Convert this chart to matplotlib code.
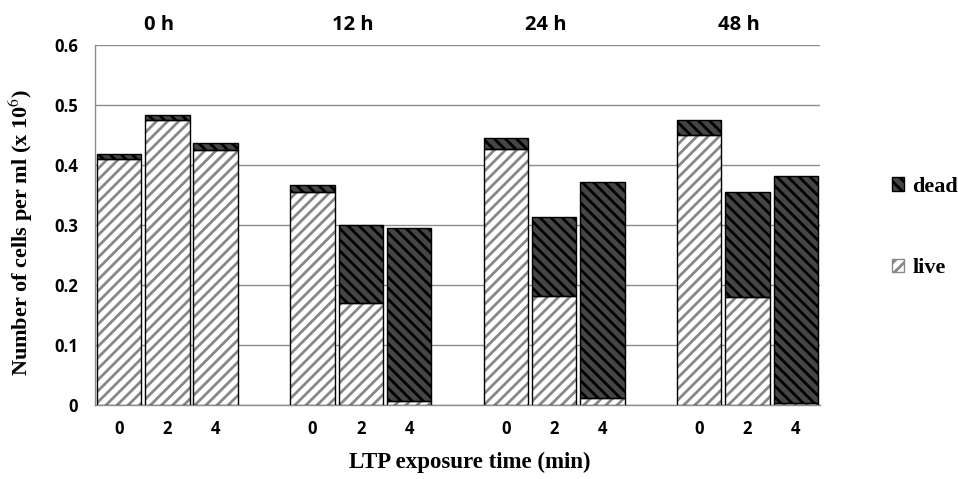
import matplotlib
matplotlib.use("Agg")
import matplotlib.pyplot as plt
from matplotlib.patches import Patch
import numpy as np

groups = ["0 h", "12 h", "24 h", "48 h"]
exposure = ["0", "2", "4"]
live = [0.410, 0.475, 0.425,
        0.355, 0.170, 0.007,
        0.427, 0.182, 0.012,
        0.450, 0.180, 0.003]
total = [0.419, 0.483, 0.436,
         0.366, 0.300, 0.295,
         0.445, 0.313, 0.371,
         0.475, 0.355, 0.381]
dead = [t - l for t, l in zip(total, live)]

plt.rcParams['hatch.linewidth'] = 2.0

fig = plt.figure(figsize=(9.58, 4.79), dpi=100)
ax = fig.add_axes([0.099, 0.1545, 0.757, 0.7515])

pos = []
for g in range(len(groups)):
    for b in range(len(exposure)):
        pos.append(g * 4 + b)
pos = np.array(pos)
w = 0.92

# live: hatch layer then outline
ax.bar(pos, live, width=w, color="white", hatch="///", edgecolor="#888888", linewidth=0, zorder=3)
ax.bar(pos, live, width=w, fill=False, edgecolor="black", linewidth=1.0, zorder=4)
# dead
ax.bar(pos, dead, bottom=live, width=w, color="#454545", hatch="\\\\\\", edgecolor="black", linewidth=0, zorder=3)
ax.bar(pos, dead, bottom=live, width=w, fill=False, edgecolor="black", linewidth=1.0, zorder=4)

ax.set_xlim(-0.5, 14.5)
ax.set_ylim(0, 0.6)
ax.set_yticks([0, 0.1, 0.2, 0.3, 0.4, 0.5, 0.6])
ax.set_yticklabels(["0", "0.1", "0.2", "0.3", "0.4", "0.5", "0.6"])
ax.set_xticks(pos)
ax.set_xticklabels(exposure * len(groups))
for lab in ax.get_xticklabels() + ax.get_yticklabels():
    lab.set_fontfamily("Open Sans")
    lab.set_fontweight("bold")
    lab.set_fontsize(12)
ax.tick_params(axis="y", length=0, pad=12)
ax.tick_params(axis="x", length=0, pad=11)
ax.yaxis.grid(True, color="#8c8c8c", linewidth=1.0, zorder=0)
ax.set_axisbelow(True)
for s in ["top", "right"]:
    ax.spines[s].set_visible(False)
ax.spines["left"].set_color("#8c8c8c")
ax.spines["bottom"].set_color("#8c8c8c")
ax.spines["left"].set_linewidth(1.0)
ax.spines["bottom"].set_linewidth(1.0)

for g, name in enumerate(groups):
    ax.annotate(name, xy=(g * 4 + 1, 0.6), xytext=(-6, 7), textcoords="offset points",
                ha="center", va="bottom", fontfamily="Open Sans", fontweight="bold", fontsize=14.5)

fig.text(21 / 958, 1 - 232 / 479, "Number of cells per ml (x 10$^{6}$)", rotation=90,
         ha="center", va="center", fontfamily="Liberation Serif", fontweight="bold", fontsize=16,
         math_fontfamily="stix")
fig.text(470 / 958, 1 - 462 / 479, "LTP exposure time (min)", ha="center", va="center",
         fontfamily="Liberation Serif", fontweight="bold", fontsize=16.5)

handles = [Patch(facecolor="#454545", hatch="\\\\\\", edgecolor="black"),
           Patch(facecolor="white", hatch="///", edgecolor="#888888")]
leg = fig.legend(handles, ["dead", "live"], loc="center right", bbox_to_anchor=(1.0, 0.525),
                 frameon=False, handlelength=0.55, handleheight=0.55, handletextpad=0.35,
                 labelspacing=2.75, borderpad=0.0, borderaxespad=0.0,
                 prop={"family": "Liberation Serif", "weight": "bold", "size": 16})
leg._legend_box.align = "left"

fig.savefig("out.png", dpi=100)
